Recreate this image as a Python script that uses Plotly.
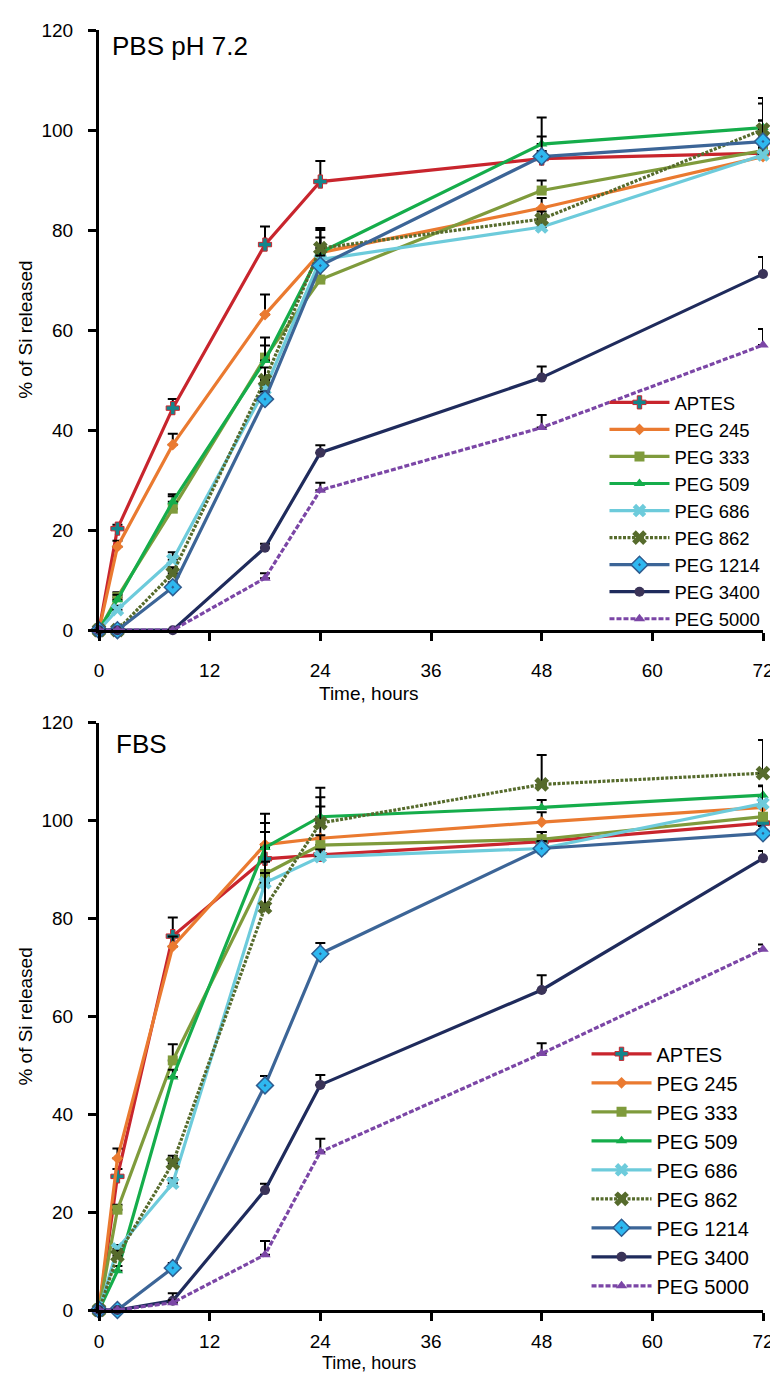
import plotly.graph_objects as go

times = [0, 2, 8, 18, 24, 48, 72]
names = ["APTES", "PEG 245", "PEG 333", "PEG 509", "PEG 686", "PEG 862", "PEG 1214", "PEG 3400", "PEG 5000"]

# PBS pH 7.2 panel
pbs_aptes = [0, 20.3, 44.4, 77.1, 89.7, 94.3, 95.4]
pbs_peg245 = [0, 16.7, 37.1, 63.1, 75.5, 84.4, 94.7]
pbs_peg333 = [0, 6.6, 24.3, 54.5, 70.1, 87.9, 95.9]
pbs_peg509 = [0, 6.1, 25.7, 53.9, 75.5, 97.2, 100.5]
pbs_peg686 = [0, 4.1, 14.1, 48.2, 74.1, 80.6, 95.0]
pbs_peg862 = [0, 0, 11.4, 50.0, 76.4, 82.2, 100.1]
pbs_peg1214 = [0, 0, 8.6, 46.2, 72.9, 94.7, 97.7]
pbs_peg3400 = [0, 0, 0, 16.5, 35.5, 50.5, 71.2]
pbs_peg5000 = [0, 0, 0, 10.4, 28.0, 40.5, 57.0]

pbs_err_aptes = [0, 0.8, 1.8, 3.6, 4.1, 1.5, 6.5]
pbs_err_peg245 = [0, 1.2, 2.2, 4.0, 3.0, 2.0, 2.0]
pbs_err_peg333 = [0, 1.0, 2.5, 4.0, 2.5, 2.0, 3.0]
pbs_err_peg509 = [0, 1.0, 1.5, 3.0, 4.5, 5.3, 4.8]
pbs_err_peg686 = [0, 0.8, 1.5, 2.0, 1.5, 1.0, 1.5]
pbs_err_peg862 = [0, 0, 1.2, 2.5, 4.0, 1.5, 6.3]
pbs_err_peg1214 = [0, 0, 1.0, 1.5, 2.0, 4.0, 4.2]
pbs_err_peg3400 = [0, 0, 0, 0.8, 1.5, 2.2, 3.4]
pbs_err_peg5000 = [0, 0, 0, 1.0, 1.5, 2.5, 3.2]

# FBS panel
fbs_aptes = [0, 27.3, 76.4, 92.2, 93.0, 95.7, 99.5]
fbs_peg245 = [0, 31.0, 74.3, 95.1, 96.4, 99.7, 102.7]
fbs_peg333 = [0, 20.5, 51.0, 89.1, 95.0, 96.2, 100.8]
fbs_peg509 = [0, 8.0, 47.6, 94.5, 100.8, 102.7, 105.2]
fbs_peg686 = [0, 12.5, 25.9, 87.3, 92.6, 94.3, 103.5]
fbs_peg862 = [0, 11.1, 30.0, 82.3, 99.5, 107.4, 109.7]
fbs_peg1214 = [0, 0, 8.6, 45.9, 72.8, 94.3, 97.4]
fbs_peg3400 = [0, 0, 1.9, 24.5, 46.0, 65.4, 92.3]
fbs_peg5000 = [0, 0, 1.5, 11.3, 32.3, 52.4, 73.7]

fbs_err_aptes = [0, 1.5, 3.8, 2.0, 1.5, 2.0, 2.0]
fbs_err_peg245 = [0, 2.0, 2.0, 4.4, 6.5, 2.0, 2.0]
fbs_err_peg333 = [0, 1.0, 3.3, 2.5, 2.0, 1.5, 2.0]
fbs_err_peg509 = [0, 1.0, 1.5, 6.9, 4.0, 1.5, 2.0]
fbs_err_peg686 = [0, 0.8, 1.0, 2.0, 1.5, 1.5, 3.5]
fbs_err_peg862 = [0, 1.0, 1.5, 15.4, 7.2, 6.0, 6.8]
fbs_err_peg1214 = [0, 0, 1.0, 1.9, 2.2, 1.5, 1.5]
fbs_err_peg3400 = [0, 0, 1.5, 1.3, 2.0, 3.0, 1.5]
fbs_err_peg5000 = [0, 0, 0.5, 2.8, 2.7, 2.1, 1.0]

x_ticks = [0, 12, 24, 36, 48, 60, 72]
y_ticks = [0, 20, 40, 60, 80, 100, 120]

pbs_vals = [pbs_aptes, pbs_peg245, pbs_peg333, pbs_peg509, pbs_peg686, pbs_peg862, pbs_peg1214, pbs_peg3400, pbs_peg5000]
pbs_errs = [pbs_err_aptes, pbs_err_peg245, pbs_err_peg333, pbs_err_peg509, pbs_err_peg686, pbs_err_peg862, pbs_err_peg1214, pbs_err_peg3400, pbs_err_peg5000]
fbs_vals = [fbs_aptes, fbs_peg245, fbs_peg333, fbs_peg509, fbs_peg686, fbs_peg862, fbs_peg1214, fbs_peg3400, fbs_peg5000]
fbs_errs = [fbs_err_aptes, fbs_err_peg245, fbs_err_peg333, fbs_err_peg509, fbs_err_peg686, fbs_err_peg862, fbs_err_peg1214, fbs_err_peg3400, fbs_err_peg5000]

styles = [
    dict(line=dict(color="#C8252D", width=3.2), marker=dict(symbol="cross", size=11, color="#13868C", line=dict(color="#C8252D", width=1))),
    dict(line=dict(color="#EA7A30", width=3.2), marker=dict(symbol="diamond", size=9, color="#EA7A30")),
    dict(line=dict(color="#7F9B3C", width=3.2), marker=dict(symbol="square", size=10, color="#7F9B3C")),
    dict(line=dict(color="#15AD4B", width=3.2), marker=dict(symbol="triangle-up", size=10, color="#15AD4B")),
    dict(line=dict(color="#6DCBDB", width=3.2), marker=dict(symbol="x", size=12, color="#6DCBDB")),
    dict(line=dict(color="#566B2C", width=3.2, dash="3px,1.5px"), marker=dict(symbol="x", size=13, color="#566B2C")),
    dict(line=dict(color="#3C6597", width=3.2), marker=dict(symbol="diamond-dot", size=13, color="#2EB8F0", line=dict(color="#2F5C8F", width=1.5))),
    dict(line=dict(color="#1F2B5C", width=3.2), marker=dict(symbol="circle", size=10, color="#3A3358")),
    dict(line=dict(color="#7B46A6", width=3.2, dash="5px,2px"), marker=dict(symbol="triangle-up", size=10, color="#7B46A6")),
]

FONT = "Liberation Sans, Arial, sans-serif"
W, H = 778, 1374
ML, MR, MT, MB = 91, 21, 16, 72
top_y0_px, bot_y0_px, bot_y120_px = 619, 1302, 712
ph = H - MT - MB


def py(px):
    return (H - MB - px) / ph


def pxx(px):
    return (px - ML) / (W - ML - MR)


fig = go.Figure()
for panel, (vals_list, errs_list, xa, ya, leg) in enumerate([
    (pbs_vals, pbs_errs, "x", "y", "legend"),
    (fbs_vals, fbs_errs, "x2", "y2", "legend2"),
]):
    for name, vals, errs, st in zip(names, vals_list, errs_list, styles):
        fig.add_trace(go.Scatter(
            x=times, y=vals, name=name, mode="lines+markers",
            line=st["line"], marker=st["marker"],
            error_y=dict(type="data", array=errs, arrayminus=[0] * len(errs), symmetric=False,
                         color="black", thickness=2, width=5),
            xaxis=xa, yaxis=ya, legend=leg, cliponaxis=False,
        ))

axis_common = dict(showline=True, linewidth=3, linecolor="black", ticks="outside", ticklen=8,
                   tickwidth=3, tickcolor="black", showgrid=False, zeroline=False,
                   tickfont=dict(family=FONT, size=19, color="black"))

fig.update_layout(
    width=W, height=H,
    margin=dict(l=ML, r=MR, t=MT, b=MB),
    paper_bgcolor="white", plot_bgcolor="white",
    font=dict(family=FONT, size=19, color="black"),
    xaxis=dict(domain=[0, 1], anchor="y", range=[0, 72], tickvals=x_ticks, ticklabelstandoff=13, **axis_common),
    yaxis=dict(domain=[py(top_y0_px), 1], anchor="x", range=[0, 120], tickvals=y_ticks, ticklabelstandoff=11, **axis_common),
    xaxis2=dict(domain=[0, 1], anchor="y2", range=[0, 72], tickvals=x_ticks, ticklabelstandoff=4, **axis_common),
    yaxis2=dict(domain=[0, py(bot_y120_px)], anchor="x2", range=[0, 120], tickvals=y_ticks, ticklabelstandoff=11, **axis_common),
    legend=dict(x=pxx(598), y=py(371.5), xanchor="left", yanchor="top", bgcolor="rgba(0,0,0,0)",
                font=dict(family=FONT, size=18.5), itemwidth=60, tracegroupgap=0),
    legend2=dict(x=pxx(580), y=py(1025), xanchor="left", yanchor="top", bgcolor="rgba(0,0,0,0)",
                 font=dict(family=FONT, size=20), itemwidth=60, tracegroupgap=0),
    showlegend=True,
    annotations=[
        dict(text="PBS pH 7.2", x=pxx(102), y=py(32), xref="paper", yref="paper", xanchor="left",
             yanchor="middle", showarrow=False, font=dict(family=FONT, size=26)),
        dict(text="FBS", x=pxx(106), y=py(733), xref="paper", yref="paper", xanchor="left",
             yanchor="middle", showarrow=False, font=dict(family=FONT, size=26)),
        dict(text="Time, hours", x=pxx(362), y=py(683), xref="paper", yref="paper", xanchor="center",
             yanchor="middle", showarrow=False, font=dict(family=FONT, size=19)),
        dict(text="Time, hours", x=pxx(362), y=py(1355), xref="paper", yref="paper", xanchor="center",
             yanchor="middle", showarrow=False, font=dict(family=FONT, size=18)),
        dict(text="% of Si released", x=pxx(17), y=py(317), xref="paper", yref="paper", xanchor="center",
             yanchor="middle", textangle=-90, showarrow=False, font=dict(family=FONT, size=19)),
        dict(text="% of Si released", x=pxx(17), y=py(1007), xref="paper", yref="paper", xanchor="center",
             yanchor="middle", textangle=-90, showarrow=False, font=dict(family=FONT, size=19)),
    ],
)

fig.write_html("out.html")
